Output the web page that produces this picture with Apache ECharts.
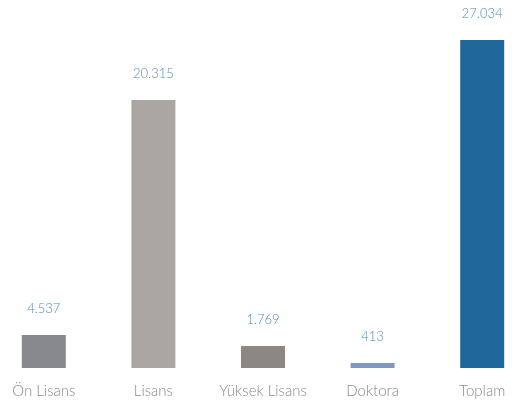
<!DOCTYPE html>
<html>
<head>
<meta charset="utf-8">
<script src="https://cdn.jsdelivr.net/npm/echarts@6/dist/echarts.min.js"></script>
<style>
  html, body { margin: 0; padding: 0; background: #fff; }
  #chart { width: 512px; height: 405px; }
</style>
</head>
<body>
<div id="chart"></div>
<script>
// kategoriler ve gösterilen değerler
const categories = ['Ön Lisans', 'Lisans', 'Yüksek Lisans', 'Doktora', 'Toplam'];
const labelValues = ['4.537', '20.315', '1.769', '413', '27.034'];
// çubuk yükseklikleri (orijinal grafik orantılı değil)
const barValues = [2720, 22089, 1813, 412, 27034];
const barColors = ['#88898c', '#aaa6a2', '#8c8783', '#7d99c0', '#1f6699'];

let myChart = echarts.init(document.getElementById('chart'));
myChart.setOption({
    animation: false,
    grid: { left: -11, width: 548, top: 40, bottom: 37, outerBoundsMode: 'none' },
    xAxis: {
        type: 'category',
        data: categories,
        axisLine: { show: false },
        axisTick: { show: false },
        axisLabel: {
            interval: 0,
            color: '#8a8a8a',
            fontFamily: 'Lato',
            fontWeight: 300,
            fontSize: 15,
            margin: 16
        }
    },
    yAxis: {
        type: 'value',
        min: 0,
        max: 27034,
        show: false
    },
    series: [{
        type: 'bar',
        barWidth: 44,
        data: barValues.map((v, i) => ({
            value: v,
            itemStyle: { color: barColors[i] }
        })),
        label: {
            show: true,
            position: 'top',
            distance: 20,
            color: '#5289bb',
            fontFamily: 'Lato',
            fontWeight: 300,
            fontSize: 13,
            formatter: p => labelValues[p.dataIndex]
        }
    }]
});
</script>
</body>
</html>
